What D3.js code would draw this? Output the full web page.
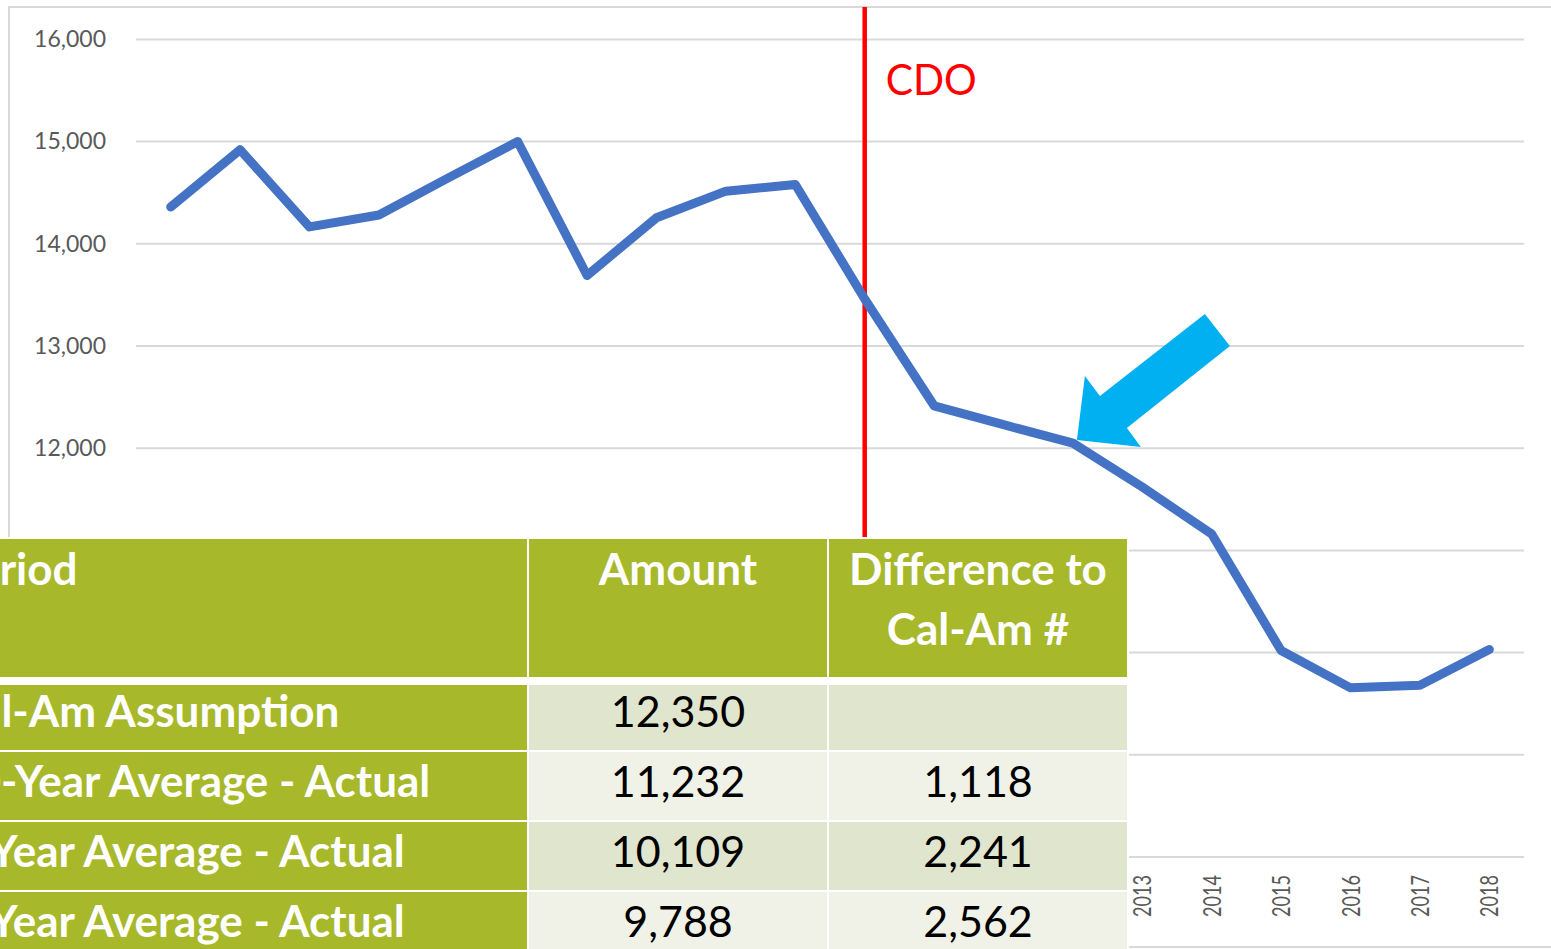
<html lang="en">
<head>
<meta charset="UTF-8">
<title>Cal-Am Water Usage with Table</title>
<script src="https://d3js.org/d3.v7.min.js"></script>
<style>
  body {
    margin: 0;
    background-color: #ffffff;
    font-family: Lato, "Open Sans", sans-serif;
  }
  svg { display: block; }
  .grid line { stroke: #d9d9d9; stroke-width: 2; }
  .y-axis text { fill: #595959; font-size: 23px; }
  .x-axis text { fill: #595959; font-size: 25px; }
  .head-text { fill: #ffffff; font-weight: bold; font-size: 44px; }
  .period-text { fill: #ffffff; font-weight: bold; font-size: 44px; }
  .num-text { fill: #000000; font-size: 43px; }
</style>
</head>
<body>
<div id="chart"></div>

<script>
// yearly values
const years = [1999, 2000, 2001, 2002, 2003, 2004, 2005, 2006, 2007, 2008,
               2009, 2010, 2011, 2012, 2013, 2014, 2015, 2016, 2017, 2018];
const usage = [14360, 14920, 14165, 14282, 14645, 15000, 13690, 14255, 14515, 14580,
               13460, 12415, 12230, 12050, 11620, 11160, 10020, 9655, 9680, 10030];
const yTicks = [8000, 9000, 10000, 11000, 12000, 13000, 14000, 15000, 16000];

// marker + annotation
const cdoYear = 2009;
const cdoLabel = "CDO";
const arrowYear = 2012;

// table
const headers = ["Period", "Amount", "Difference to", "Cal-Am #"];
const periods = ["Cal-Am Assumption", "10-Year Average - Actual", "5-Year Average - Actual", "3-Year Average - Actual"];
const amounts = [12350, 11232, 10109, 9788];
const differences = [null, 1118, 2241, 2562];

const W = 1551, H = 949;
const plot = { left: 136, right: 1524, top: 39.4, bottom: 857 };
const tableRight = 1127, headTop = 539;

const svg = d3.select("#chart").append("svg")
  .attr("width", W)
  .attr("height", H);

// chart frame
svg.append("rect")
  .attr("x", 9).attr("y", 7)
  .attr("width", W + 10).attr("height", 940)
  .attr("fill", "none")
  .attr("stroke", "#d9d9d9")
  .attr("stroke-width", 2);

const x = d3.scaleBand()
  .domain(years)
  .range([plot.left, plot.right]);

const xc = d => x(d) + x.bandwidth() / 2;

const y = d3.scaleLinear()
  .domain([8000, 16000])
  .range([plot.bottom, plot.top]);

// gridlines
svg.append("g")
  .attr("class", "grid")
  .selectAll("line")
  .data(yTicks)
  .join("line")
  .attr("x1", plot.left)
  .attr("x2", plot.right)
  .attr("y1", d => y(d))
  .attr("y2", d => y(d));

// y axis labels (the ones under the table are covered anyway)
const yAxis = d3.axisLeft(y)
  .tickValues(yTicks)
  .tickFormat(d3.format(","))
  .tickSize(0)
  .tickPadding(30);

svg.append("g")
  .attr("class", "y-axis")
  .attr("transform", `translate(${plot.left},0)`)
  .call(yAxis)
  .call(g => g.select(".domain").remove())
  .call(g => g.selectAll(".tick").filter(d => y(d) > headTop - 10).remove())
  .selectAll("text")
  .style("font-family", "Lato, sans-serif");

// x axis labels (rotated)
const xAxis = d3.axisBottom(x).tickSize(0);

svg.append("g")
  .attr("class", "x-axis")
  .attr("transform", `translate(0,${plot.bottom})`)
  .call(xAxis)
  .call(g => g.select(".domain").remove())
  .call(g => g.selectAll(".tick").filter(d => xc(d) < tableRight).remove())
  .selectAll("text")
  .style("font-family", "Lato, sans-serif")
  .attr("transform", "rotate(-90)")
  .attr("x", -18)
  .attr("y", 0)
  .attr("dy", "0.36em")
  .attr("textLength", 42)
  .attr("lengthAdjust", "spacingAndGlyphs")
  .style("text-anchor", "end");

// CDO marker line
svg.append("line")
  .attr("x1", xc(cdoYear)).attr("x2", xc(cdoYear))
  .attr("y1", 7).attr("y2", 540)
  .attr("stroke", "#ff0000")
  .attr("stroke-width", 4.5);

svg.append("text")
  .attr("x", xc(cdoYear) + 21)
  .attr("y", 95)
  .attr("fill", "#ff0000")
  .style("font-size", "43px")
  .attr("textLength", 91)
  .attr("lengthAdjust", "spacingAndGlyphs")
  .text(cdoLabel);

// data line
const line = d3.line()
  .x((d, i) => xc(years[i]))
  .y(d => y(d));

svg.append("path")
  .datum(usage)
  .attr("fill", "none")
  .attr("stroke", "#4472c4")
  .attr("stroke-width", 9)
  .attr("stroke-linejoin", "round")
  .attr("stroke-linecap", "round")
  .attr("d", line);

// arrow pointing at the 2012 value
const ai = years.indexOf(arrowYear);
const arrowShape = [[0, 0], [64, 7], [50, -12], [153, -94], [128, -126], [23, -44], [8, -64]];
svg.append("polygon")
  .attr("transform", `translate(${xc(arrowYear) + 4},${y(usage[ai]) - 3})`)
  .attr("points", arrowShape.map(p => p.join(",")).join(" "))
  .attr("fill", "#00b0f0");

// table
const green = "#a7b82a";
const rowFill = ["#e0e5cd", "#f0f2e8", "#e0e5cd", "#f0f2e8"];
const cols = [[-60, 527], [529, 827], [829, tableRight]];
const headBottom = 677;
const rowTop = i => 682 + i * 70;
const rowH = 68;

const table = svg.append("g").attr("class", "table");

// white backdrop
table.append("rect")
  .attr("x", -60).attr("y", headTop - 2)
  .attr("width", tableRight + 62).attr("height", H)
  .attr("fill", "#ffffff");

// header cells
table.selectAll(".head-cell")
  .data(cols)
  .join("rect")
  .attr("class", "head-cell")
  .attr("x", d => d[0])
  .attr("y", headTop)
  .attr("width", d => d[1] - d[0])
  .attr("height", headBottom - headTop)
  .attr("fill", green);

// body cells
periods.forEach((p, i) => {
  cols.forEach((c, j) => {
    table.append("rect")
      .attr("x", c[0])
      .attr("y", i === 0 ? 685 : rowTop(i))
      .attr("width", c[1] - c[0])
      .attr("height", i === 0 ? rowTop(0) + rowH - 685 : rowH)
      .attr("fill", j === 0 ? green : rowFill[i]);
  });
});

// header text
table.append("text").attr("class", "head-text")
  .attr("x", -50).attr("y", 585).text(headers[0]);
table.append("text").attr("class", "head-text")
  .attr("x", (cols[1][0] + cols[1][1]) / 2).attr("y", 585)
  .attr("text-anchor", "middle").text(headers[1]);
table.append("text").attr("class", "head-text")
  .attr("x", (cols[2][0] + cols[2][1]) / 2).attr("y", 585)
  .attr("text-anchor", "middle").text(headers[2]);
table.append("text").attr("class", "head-text")
  .attr("x", (cols[2][0] + cols[2][1]) / 2).attr("y", 645)
  .attr("text-anchor", "middle").text(headers[3]);

const fmt = d3.format(",");

table.selectAll(".period-text")
  .data(periods)
  .join("text")
  .attr("class", "period-text")
  .attr("x", -50)
  .attr("y", (d, i) => 727 + i * 70)
  .text(d => d);

table.selectAll(".amount-text")
  .data(amounts)
  .join("text")
  .attr("class", "num-text amount-text")
  .attr("x", (cols[1][0] + cols[1][1]) / 2)
  .attr("y", (d, i) => 727 + i * 70)
  .attr("text-anchor", "middle")
  .text(d => fmt(d));

table.selectAll(".diff-text")
  .data(differences)
  .join("text")
  .attr("class", "num-text diff-text")
  .attr("x", (cols[2][0] + cols[2][1]) / 2)
  .attr("y", (d, i) => 727 + i * 70)
  .attr("text-anchor", "middle")
  .text(d => d == null ? "" : fmt(d));
</script>
</body>
</html>
